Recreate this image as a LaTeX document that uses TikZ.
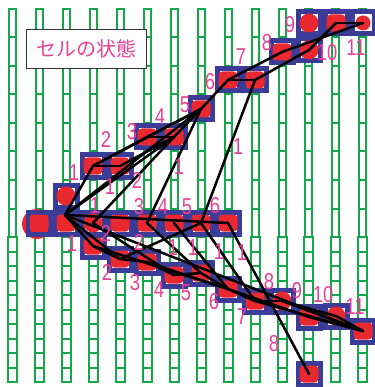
\documentclass[tikz,border=0pt]{standalone}
\usepackage{fontspec}
\newfontfamily\numfont[FakeStretch=0.8]{Liberation Sans}
\newfontfamily\cjk{Noto Sans CJK JP}
\usetikzlibrary{positioning}
\definecolor{gridgreen}{RGB}{20,168,72}
\definecolor{boxblue}{RGB}{58,60,152}
\definecolor{dotred}{RGB}{234,40,48}
\definecolor{numpink}{RGB}{233,64,150}
\tikzset{
  cell/.style={rectangle,draw=boxblue,line width=5pt,fill=white,minimum width=22pt,minimum height=22pt,inner sep=0pt},
  redsq/.style={rectangle,rounded corners=4pt,fill=dotred,minimum width=19pt,minimum height=17pt,inner sep=0pt},
  reddot/.style={circle,fill=dotred,minimum size=19pt,inner sep=0pt},
  num/.style={text=numpink,font=\numfont\fontsize{23}{23}\selectfont,inner sep=0pt},
  link/.style={line width=2.5pt,line cap=round,line join=round},
  rung/.style={draw=gridgreen,line width=2pt}
}
\begin{document}
\begin{tikzpicture}[x=1pt,y=-1pt]
\useasboundingbox (0,0) rectangle (374,387);
\foreach \i in {0,...,13}{
  \pgfmathsetmacro\cx{12.5+26.95*\i}
  \foreach \j in {0,...,7} \draw[rung] (\cx-3.5,9+28.5*\j) rectangle (\cx+3.5,37.5+28.5*\j);
  \foreach \j in {0,...,9} \draw[rung] (\cx-4.5,237+14.5*\j) rectangle (\cx+4.5,251.5+14.5*\j);
}
\node (state) [draw=black!80,line width=1.2pt,fill=white,minimum width=120pt,minimum height=39pt,text=numpink,font=\cjk\fontsize{20}{20}\selectfont] at (86.5,49) {セルの状態};

\foreach \n/\x/\y in {c1/39/223,hb/66/223,hbt/66/196,m1/93/223,m2/120/223,m3/147/223,m4/174/223,m5/201/223,m6/228/223,
  t1/93/166,t2/120/166,t3/147/137,t4/174/137,t5/201/109,t6/228/80,t7/255/80,t8/282/52,t9/309/23,t10/309/50,t11a/336/23,t11/363/23,
  l1/93/246,l2/120/259,l3/147/262,l4/174/275,l5/201/273,l6/228/289,l7/255/301,l8/282/301,l9/309/317,l10/336/316,l11/363/331,b8/309/374}
  \node (\n) [cell] at (\x,\y) {};
\node (glow) [circle,fill=dotred,minimum size=30pt] at (37,224) {};
\node (c1-in) [rectangle,draw=boxblue,line width=5pt,minimum width=22pt,minimum height=22pt] at (c1) {};
\foreach \n in {c1,hb,m2,m3,m4,m5,m6,t1,t2,t3,t4,t5,t6,t7,t8,t11a,l1,l2,l3,l4,l5,l6,l7,l9,l11,b8}
  \node (\n-r) [redsq] at (\n) {};
\foreach \n in {hbt,m1,t9,t10,l8,l10}
  \node (\n-r) [reddot] at (\n) {};
\node (t11-r) [reddot,minimum size=15pt] at (t11) {};

\coordinate (hub) at (65,215);
\foreach \a/\b in {hub/t1,hub/t4,hub/t5,t1/t2,t1/t3,t3/t4,t2/t4,t3/t5,t4/t5,t1/t5,
  t4/m1,t5/m3,t7/m5,t5/t6,t6/t7,t6/t8,t8/t11,t7/t10,t10/t11a,t11a/t11,
  hub/m6,m6/b8,m3/l5,m4/l6,m5/l7,m1/l4,m5/l2,
  hub/l1,hub/l2,l1/l2,l2/l3,hub/l11,l1/l6,l3/l4,l4/l5,l3/l6,l5/l6,l6/l7,l6/l9,l7/l8,l8/l10,l10/l11,l8/l11,l7/l11,l9/l11}
  \draw[link] (\a.center) -- (\b.center);

\node (n-t1) [num] at (74,173) {1};
\node (n-t2) [num] at (106,139) {2};
\node (n-t3) [num] at (132,132) {3};
\node (n-t4) [num] at (160,117) {4};
\node (n-t5) [num] at (185,105) {5};
\node (n-t6) [num] at (210,82) {6};
\node (n-t7) [num] at (241,57) {7};
\node (n-t8) [num] at (267,43) {8};
\node (n-t9) [num] at (290,25) {9};
\node (n-t10) [num] at (327,53) {10};
\node (n-t11) [num] at (356,48) {11};
\node (w-a) [num] at (110,187) {1};
\node (w-b) [num] at (137,180) {2};
\node (w-c) [num] at (179,167) {1};
\node (w-d) [num] at (238,147) {1};
\node (n-m1) [num] at (95,206) {1};
\node (n-m3) [num] at (139,207) {3};
\node (n-m4) [num] at (163,207) {4};
\node (n-m5) [num] at (187,207) {5};
\node (n-m6) [num] at (215,206) {6};
\node (w-e) [num] at (106,233) {2};
\node (n-l1) [num] at (72,244) {1};
\node (w-f) [num] at (139,242) {2};
\node (w-g) [num] at (173,248) {1};
\node (w-h) [num] at (193,248) {1};
\node (w-i) [num] at (219,252) {1};
\node (w-j) [num] at (242,253) {1};
\node (n-l2) [num] at (107,272) {2};
\node (n-l3) [num] at (135,283) {3};
\node (n-l4) [num] at (159,290) {4};
\node (n-l5) [num] at (186,293) {5};
\node (n-l6) [num] at (214,302) {6};
\node (n-l7) [num] at (242,317) {7};
\node (n-l8) [num] at (269,282) {8};
\node (n-l9) [num] at (297,291) {9};
\node (n-l10) [num] at (323,295) {10};
\node (n-l11) [num] at (355,307) {11};
\node (n-b8) [num] at (274,344) {8};
\end{tikzpicture}
\end{document}
